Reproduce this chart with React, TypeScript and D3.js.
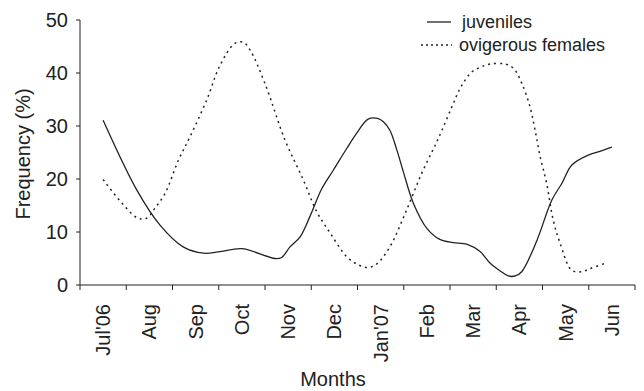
import React from "react";
import * as d3 from "d3";

// Month categories along the x axis (Jul 2006 – Jun 2007)
const months = ["Jul'06", "Aug", "Sep", "Oct", "Nov", "Dec", "Jan'07", "Feb", "Mar", "Apr", "May", "Jun"];

// Sampling positions are given in months from the start of July 2006
const juvenilesT = [
  0.5, 1.23, 1.73, 2.23, 2.67, 3.03, 3.5, 4.22, 4.36, 4.54, 4.76, 4.97, 5.23, 5.48, 5.77, 5.98,
  6.23, 6.45, 6.56, 6.7, 6.85, 6.99, 7.21, 7.5, 7.78, 8.07, 8.36, 8.65, 8.87, 9.08, 9.26, 9.41,
  9.55, 9.87, 10.2, 10.42, 10.63, 10.99, 11.24, 11.5,
];
const juvenilesPct = [
  31.1, 17.9, 11.3, 7.2, 6.0, 6.3, 6.85, 5.0, 5.2, 7.2, 9.1, 12.9, 18.2, 21.7, 25.8, 28.6,
  31.3, 31.4, 30.8, 29.2, 25.5, 21.4, 15.4, 10.7, 8.6, 8.0, 7.7, 6.3, 4.1, 2.7, 1.7, 1.7,
  2.5, 8.2, 16.0, 19.2, 22.6, 24.5, 25.2, 26.0,
];

const ovigerousT = [
  0.5, 1.23, 1.44, 1.62, 1.84, 2.13, 2.38, 2.74, 3.03, 3.35, 3.53, 3.68, 4.0, 4.43, 4.83, 5.12,
  5.41, 5.77, 6.02, 6.23, 6.42, 6.7, 7.03, 7.39, 7.75, 8.04, 8.22, 8.47, 8.69, 8.87, 9.19, 9.37,
  9.55, 9.73, 9.84, 9.95, 10.09, 10.23, 10.38, 10.63, 10.85, 11.03, 11.39,
];
const ovigerousPct = [
  19.9, 12.7, 12.6, 14.5, 17.3, 23.6, 28.0, 34.9, 41.5, 45.6, 45.8, 44.3, 38.0, 27.4, 19.8, 13.8,
  9.8, 5.3, 3.8, 3.3, 4.0, 7.2, 13.5, 21.1, 27.7, 33.6, 37.1, 40.2, 41.2, 41.7, 41.7, 40.9,
  38.1, 33.6, 29.2, 24.2, 19.2, 12.3, 7.9, 2.8, 2.5, 3.1, 4.2,
];

const yTicks = [0, 10, 20, 30, 40, 50];

const seriesNames = ["juveniles", "ovigerous females"];

const W = 644;
const H = 391;
const FONT = "'Liberation Sans', Arial, Helvetica, sans-serif";
const INK = "#222";

export default function App() {
  const x = d3.scaleLinear().domain([0, months.length]).range([80, 635]);
  const y = d3.scaleLinear().domain([0, 50]).range([285, 20]);

  const line = d3
    .line<[number, number]>()
    .x((d) => x(d[0]))
    .y((d) => y(d[1]))
    .curve(d3.curveCatmullRom.alpha(0.5));

  const juv = juvenilesT.map((t, i) => [t, juvenilesPct[i]] as [number, number]);
  const ovi = ovigerousT.map((t, i) => [t, ovigerousPct[i]] as [number, number]);

  const edges = d3.range(months.length + 1);

  return (
    <svg
      width={W}
      height={H}
      style={{ position: "absolute", left: 0, top: 0, background: "#fff" }}
      fontFamily={FONT}
    >
      {/* axes */}
      <line x1={x(0)} x2={x(0)} y1={y(50)} y2={y(0)} stroke={INK} strokeWidth={1} />
      <line x1={x(0)} x2={x(months.length)} y1={y(0)} y2={y(0)} stroke={INK} strokeWidth={1} />

      {yTicks.map((v) => (
        <g key={v}>
          <line x1={x(0) - 4} x2={x(0)} y1={y(v)} y2={y(v)} stroke={INK} />
          <text x={68} y={y(v)} dy="0.35em" textAnchor="end" fontSize={20} fill={INK}>
            {v}
          </text>
        </g>
      ))}

      {edges.map((e) => (
        <line key={e} x1={x(e)} x2={x(e)} y1={y(0)} y2={y(0) + 5} stroke={INK} />
      ))}

      {months.map((m, i) => (
        <text
          key={m}
          transform={`translate(${x(i + 0.5)},304) rotate(-90)`}
          dy="0.35em"
          textAnchor="end"
          fontSize={20}
          fill={INK}
        >
          {m}
        </text>
      ))}

      <text transform="translate(30,154) rotate(-90)" textAnchor="middle" fontSize={20} fill={INK}>
        Frequency (%)
      </text>
      <text x={333} y={386} textAnchor="middle" fontSize={20} fill={INK}>
        Months
      </text>

      {/* series */}
      <path d={line(juv) || ""} fill="none" stroke={INK} strokeWidth={1.3} />
      <path d={line(ovi) || ""} fill="none" stroke={INK} strokeWidth={1.5} strokeDasharray="2,4" />

      {/* legend */}
      <line x1={427} x2={451} y1={22} y2={22} stroke={INK} strokeWidth={1.3} />
      <text x={462} y={22} dy="0.35em" fontSize={18} fill={INK}>
        {seriesNames[0]}
      </text>
      <line x1={421} x2={452} y1={45} y2={45} stroke={INK} strokeWidth={1.5} strokeDasharray="2,3" />
      <text x={459} y={45} dy="0.35em" fontSize={18} fill={INK}>
        {seriesNames[1]}
      </text>
    </svg>
  );
}
